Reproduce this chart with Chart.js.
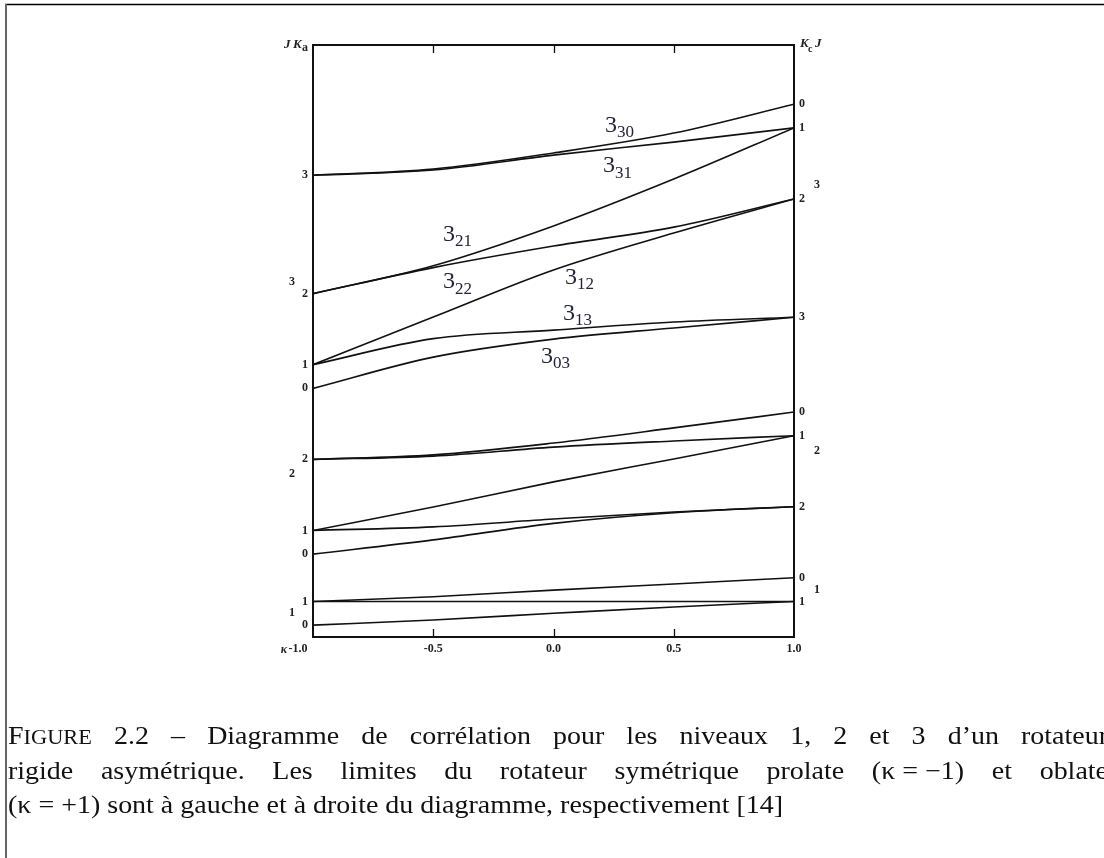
<!DOCTYPE html>
<html>
<head>
<meta charset="utf-8">
<script src="https://cdn.jsdelivr.net/npm/chart.js@4"></script>
<style>
html,body{margin:0;padding:0;background:#fff;}
canvas{display:block;}
</style>
</head>
<body>
<canvas id="chart" width="1104" height="858"></canvas>
<script>
// kappa positions where the curves were read
const kappa=[-1,-0.5,0,0.5,1];

// energy levels (arbitrary units)
const e101=[0.5,0.72,1.0,1.27,1.5];
const e111=[1.5,1.5,1.5,1.5,1.5];
const e110=[1.5,1.7,1.98,2.24,2.5];
const e202=[3.5,4.1,4.8,5.25,5.5];
const e212=[4.5,4.65,4.98,5.28,5.5];
const e211=[4.5,5.49,6.55,7.52,8.5];
const e221=[7.5,7.64,8.02,8.28,8.5];
const e220=[7.5,7.69,8.19,8.83,9.5];
const e303=[10.5,11.82,12.58,13.05,13.5];
const e313=[11.5,12.6,12.96,13.3,13.5];
const e312=[11.5,13.51,15.5,17.06,18.5];
const e322=[14.5,15.6,16.51,17.31,18.5];
const e321=[14.5,15.68,17.36,19.34,21.5];
const e331=[19.5,19.72,20.35,20.9,21.5];
const e330=[19.5,19.76,20.44,21.28,22.5];

const levels=[e101,e111,e110,e202,e212,e211,e221,e220,e303,e313,e312,e322,e321,e331,e330];

// prolate side (kappa=-1) labels
const leftE=[0.5,1.5,3.5,4.5,7.5,10.5,11.5,14.5,19.5];
const leftKa=["0","1","0","1","2","0","1","2","3"];
const leftJ=["1","2","3"];
const leftJAt=[1.0,6.9,15.0];
// oblate side (kappa=+1) labels
const rightE=[1.5,2.5,5.5,8.5,9.5,13.5,18.5,21.5,22.5];
const rightKc=["1","0","2","1","0","3","2","1","0"];
const rightJ=["1","2","3"];
const rightJAt=[2.0,7.85,19.1];

// x axis
const kTicks=[-1,-0.5,0,0.5,1];
const kTickLabels=["-1.0","-0.5","0.0","0.5","1.0"];

// curve names written on the diagram
const curveNames=["30","31","21","22","12","13","03"];
const curveAt=[[0.214,21.5],[0.206,19.8],[-0.459,16.9],[-0.459,14.9],[0.048,15.08],[0.04,13.56],[-0.052,11.74]];

const caption=[
 "FIGURE 2.2 – Diagramme de corrélation pour les niveaux 1, 2 et 3 d’un rotateur",
 "rigide asymétrique. Les limites du rotateur symétrique prolate (κ\u00a0=\u00a0−1) et oblate",
 "(κ\u00a0=\u00a0+1) sont à gauche et à droite du diagramme, respectivement [14]"
];

const datasets=levels.map(v=>({
 data:v.map((y,i)=>({x:kappa[i],y:y})),
 borderColor:"#111",borderWidth:1.6,pointRadius:0,
 cubicInterpolationMode:"monotone",fill:false
}));

const CF="25px 'Liberation Serif'";
function wordWidth(ctx,w){
 if(w==="FIGURE"){
  ctx.font=CF;let a=ctx.measureText("F").width;
  ctx.font="20px 'Liberation Serif'";return a+ctx.measureText("IGURE").width;
 }
 ctx.font=CF;return ctx.measureText(w).width;
}
function drawWord(ctx,w,x){
 if(w==="FIGURE"){
  ctx.font=CF;ctx.fillText("F",x,0);const a=ctx.measureText("F").width;
  ctx.font="20px 'Liberation Serif'";ctx.fillText("IGURE",x+a,0);return;
 }
 ctx.font=CF;ctx.fillText(w,x,0);
}

const decor={
 id:"decor",
 beforeDraw(c){
  const ctx=c.ctx;
  ctx.save();ctx.fillStyle="#fff";ctx.fillRect(0,0,c.width,c.height);
  // page frame
  ctx.strokeStyle="#000";ctx.lineWidth=1.5;
  ctx.beginPath();ctx.moveTo(5,4.5);ctx.lineTo(1104,4.5);ctx.stroke();
  ctx.strokeStyle="#666";ctx.lineWidth=2;
  ctx.beginPath();ctx.moveTo(6,4);ctx.lineTo(6,858);ctx.stroke();
  ctx.restore();
 },
 afterDraw(c){
  const ctx=c.ctx,a=c.chartArea,xs=c.scales.x,ys=c.scales.y;
  ctx.save();
  // plot box
  ctx.strokeStyle="#111";ctx.lineWidth=2;
  ctx.strokeRect(a.left,a.top,a.right-a.left,a.bottom-a.top);
  ctx.lineWidth=1.3;
  kTicks.forEach(k=>{
   if(k===-1||k===1)return;
   const px=Math.round(xs.getPixelForValue(k))+0.5;
   ctx.beginPath();ctx.moveTo(px,a.top);ctx.lineTo(px,a.top+8);
   ctx.moveTo(px,a.bottom);ctx.lineTo(px,a.bottom-8);ctx.stroke();
  });
  ctx.fillStyle="#222";
  ctx.font="bold 12px 'Liberation Serif'";
  ctx.textBaseline="middle";
  ctx.textAlign="center";
  kTicks.forEach((k,i)=>ctx.fillText(kTickLabels[i],xs.getPixelForValue(k)+(i===0?-15:0),a.bottom+12));
  ctx.font="italic bold 12px 'Liberation Serif'";
  ctx.fillText("κ",a.left-29,a.bottom+13);
  // left labels
  ctx.font="bold 12px 'Liberation Serif'";
  ctx.textAlign="right";
  leftE.forEach((e,i)=>ctx.fillText(leftKa[i],a.left-5,ys.getPixelForValue(e)));
  leftJ.forEach((j,i)=>ctx.fillText(j,a.left-18,ys.getPixelForValue(leftJAt[i])));
  ctx.textAlign="left";
  rightE.forEach((e,i)=>ctx.fillText(rightKc[i],a.right+5,ys.getPixelForValue(e)));
  rightJ.forEach((j,i)=>ctx.fillText(j,a.right+20,ys.getPixelForValue(rightJAt[i])));
  // headers
  ctx.font="italic bold 13px 'Liberation Serif'";
  ctx.fillText("J",a.left-29,a.top);
  ctx.fillText("K",a.left-20,a.top);
  ctx.font="bold 12px 'Liberation Serif'";
  ctx.fillText("a",a.left-11,a.top+3);
  ctx.font="italic bold 13px 'Liberation Serif'";
  ctx.fillText("K",a.right+6,a.top-1);
  ctx.fillText("J",a.right+21,a.top-1);
  ctx.font="bold 10px 'Liberation Serif'";
  ctx.fillText("c",a.right+14,a.top+4);
  // curve names
  ctx.fillStyle="#23233a";
  curveNames.forEach((n,i)=>{
   const px=xs.getPixelForValue(curveAt[i][0]),py=ys.getPixelForValue(curveAt[i][1]);
   ctx.font="24px 'Liberation Serif'";
   ctx.fillText("3",px,py-2);
   const w=ctx.measureText("3").width;
   ctx.font="17px 'Liberation Serif'";
   ctx.fillText(n,px+w,py+5);
  });
  // caption: last line natural width, first two justified past the right edge
  ctx.fillStyle="#111";
  ctx.textBaseline="alphabetic";
  const lastWords=caption[2].split(" ");
  ctx.font=CF;
  const sp=ctx.measureText(" ").width;
  let nat=lastWords.reduce((s,w)=>s+wordWidth(ctx,w),0)+sp*(lastWords.length-1);
  const sx=775/nat;
  const base=[744,779,813];
  caption.forEach((t,i)=>{
   const words=t.split(" ");
   const ws=words.map(w=>wordWidth(ctx,w));
   const sum=ws.reduce((s,v)=>s+v,0);
   const gap=i<2?(1100/sx-sum)/(words.length-1):sp;
   ctx.save();ctx.translate(8,base[i]);ctx.scale(sx,1);
   let x=0;
   words.forEach((w,j)=>{drawWord(ctx,w,x);x+=ws[j]+gap;});
   ctx.restore();
  });
  ctx.restore();
 }
};

new Chart(document.getElementById("chart"),{
 type:"line",
 data:{datasets:datasets},
 options:{
  responsive:false,animation:false,devicePixelRatio:1,
  layout:{padding:{left:313,right:310,top:45,bottom:221}},
  plugins:{legend:{display:false},tooltip:{enabled:false}},
  scales:{
   x:{type:"linear",min:-1,max:1,display:false},
   y:{type:"linear",min:0,max:25,display:false}
  }
 },
 plugins:[decor]
});
</script>
</body>
</html>
